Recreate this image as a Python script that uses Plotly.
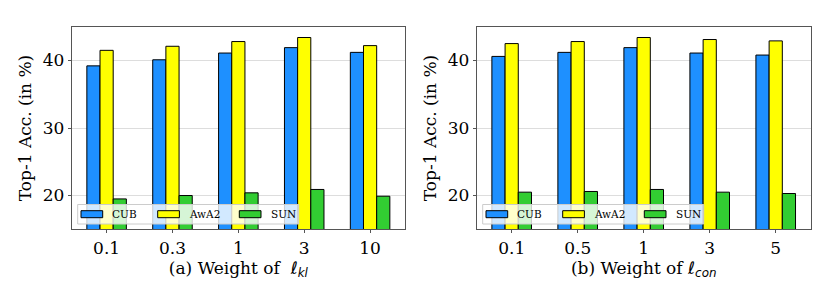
import plotly.graph_objects as go
from plotly.subplots import make_subplots

series = ["CUB", "AwA2", "SUN"]
colors = ["#1E90FF", "#FFFF00", "#32CD32"]

kl_labels = ["0.1", "0.3", "1", "3", "10"]
kl_cub = [39.2, 40.1, 41.1, 41.9, 41.2]
kl_awa2 = [41.5, 42.1, 42.8, 43.4, 42.2]
kl_sun = [19.5, 20.0, 20.4, 20.9, 19.9]

con_labels = ["0.1", "0.5", "1", "3", "5"]
con_cub = [40.6, 41.2, 41.9, 41.1, 40.8]
con_awa2 = [42.5, 42.8, 43.4, 43.1, 42.9]
con_sun = [20.5, 20.6, 20.9, 20.5, 20.3]

y_range = [15, 45]
y_ticks = [20, 30, 40]

W, H = 822, 291
OFF = 8  # page body margin


def px(xpix):
    return (xpix - OFF) / W


def py(ypix):
    return 1 - (ypix - OFF) / H


fig = make_subplots(rows=1, cols=2)

FONT = "DejaVu Serif"

panels = [
    (1, kl_labels, [kl_cub, kl_awa2, kl_sun]),
    (2, con_labels, [con_cub, con_awa2, con_sun]),
]
for col, labels, vals in panels:
    for name, color, v in zip(series, colors, vals):
        fig.add_trace(
            go.Bar(
                x=list(range(len(labels))), y=v, name=name,
                marker=dict(color=color, line=dict(color="black", width=1)),
                showlegend=False,
            ),
            row=1, col=col,
        )

frame = "#555555"
axis_common = dict(
    showline=True, linecolor=frame, linewidth=1, mirror=True,
    ticks="outside", ticklen=3, tickcolor=frame, automargin=False,
    tickfont=dict(family=FONT, size=17, color="black"),
)

fig.update_xaxes(**axis_common, showgrid=False, zeroline=False,
                 range=[-0.53, 4.53])
fig.update_yaxes(**axis_common, showgrid=True, gridcolor="#dddddd", gridwidth=1,
                 zeroline=False, range=y_range, tickvals=y_ticks)

MATH = 'style="font-family:DejaVu Sans"'
axis_x0 = [71.7, 476.7]
axis_x1 = [405.0, 810.7]
title_font = dict(family=FONT, size=17, color="black")
fig.update_xaxes(row=1, col=1, domain=[px(axis_x0[0]), px(axis_x1[0])],
                 tickvals=list(range(5)), ticktext=kl_labels,
                 title=dict(text=f"(a) Weight of  <span {MATH}><i>ℓ</i><sub><i>kl</i></sub></span>",
                            font=title_font, standoff=2))
fig.update_xaxes(row=1, col=2, domain=[px(axis_x0[1]), px(axis_x1[1])],
                 tickvals=list(range(5)), ticktext=con_labels,
                 title=dict(text=f"(b) Weight of <span {MATH}><i>ℓ</i><sub><i>con</i></sub></span>",
                            font=title_font, standoff=2))
for c in (1, 2):
    fig.update_yaxes(row=1, col=c, domain=[py(229.3), py(26.7)],
                     title=dict(text="Top-1 Acc. (in %)",
                                font=title_font, standoff=6))

# custom legends (matplotlib-style wide patches)
box_rel = (6.0, 227.0)
sym_rel = [9.3, 86.0, 167.6]
sym_w = 21.7
txt_rel = [39.3, 116.0, 198.6]
box_y = (204.5, 224.0)
sym_y = (210.7, 217.7)
txt_y = 214.3

shapes = []
annotations = []
for x0 in axis_x0:
    shapes.append(dict(
        type="rect", xref="paper", yref="paper", layer="above",
        x0=px(x0 + box_rel[0]), x1=px(x0 + box_rel[1]),
        y0=py(box_y[1]), y1=py(box_y[0]),
        fillcolor="rgba(255,255,255,0.8)", line=dict(color="#cccccc", width=1),
    ))
    for name, color, sx, tx in zip(series, colors, sym_rel, txt_rel):
        shapes.append(dict(
            type="rect", xref="paper", yref="paper", layer="above",
            x0=px(x0 + sx), x1=px(x0 + sx + sym_w),
            y0=py(sym_y[1]), y1=py(sym_y[0]),
            fillcolor=color, line=dict(color="black", width=1),
        ))
        annotations.append(dict(
            text=name, xref="paper", yref="paper", showarrow=False,
            x=px(x0 + tx), y=py(txt_y), xanchor="left", yanchor="middle",
            font=dict(family=FONT, size=10.5, color="black"),
            borderpad=0,
        ))

fig.update_layout(
    shapes=shapes, annotations=annotations,
    barmode="group", bargap=0.4, bargroupgap=0,
    width=W, height=H,
    margin=dict(l=0, r=0, t=0, b=0),
    paper_bgcolor="white", plot_bgcolor="white",
    font=dict(family=FONT, color="black"),
)

fig.write_html("out.html")
